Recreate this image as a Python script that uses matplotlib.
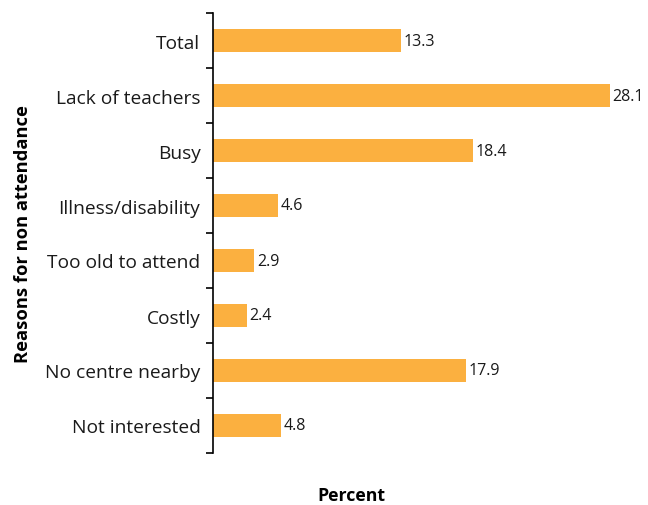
import matplotlib.pyplot as plt
import numpy as np

reasons = ["Total", "Lack of teachers", "Busy", "Illness/disability",
           "Too old to attend", "Costly", "No centre nearby", "Not interested"]
percent = [13.3, 28.1, 18.4, 4.6, 2.9, 2.4, 17.9, 4.8]

plt.rcParams['font.family'] = ['Open Sans', 'DejaVu Sans']

fig = plt.figure(figsize=(6.48, 5.06), dpi=100)
ax = fig.add_axes([213/648, 1 - 454/506, 427/648, 440/506])

y = np.arange(len(reasons))
ax.barh(y, percent, height=0.42, color="#FBB040")
for yi, v in zip(y, percent):
    ax.text(v + 0.2, yi, f"{v:.1f}", va="center", ha="left", fontsize=11.5, color="#1a1a1a")

ax.set_ylim(len(reasons) - 0.5, -0.5)
ax.set_xlim(0, 427 / 14.12)
ax.set_yticks(y)
ax.set_yticklabels(reasons, fontsize=13.8, color="#1a1a1a")
ax.set_yticks(np.arange(-0.5, len(reasons)), minor=True)
ax.tick_params(axis="y", which="major", length=0, pad=9)
ax.tick_params(axis="y", which="minor", length=5, width=1.2, direction="out")
ax.set_xticks([])
for s in ["top", "right", "bottom"]:
    ax.spines[s].set_visible(False)
ax.spines["left"].set_linewidth(1.2)

ax.set_ylabel("Reasons for non attendance", fontsize=13.2, fontweight="bold")
ax.yaxis.set_label_coords(-181/427, 0.5)
ax.set_xlabel("Percent", fontsize=12.8, fontweight="bold")
ax.xaxis.set_label_coords(138/427, -0.075)

fig.savefig("out.png", dpi=100)
